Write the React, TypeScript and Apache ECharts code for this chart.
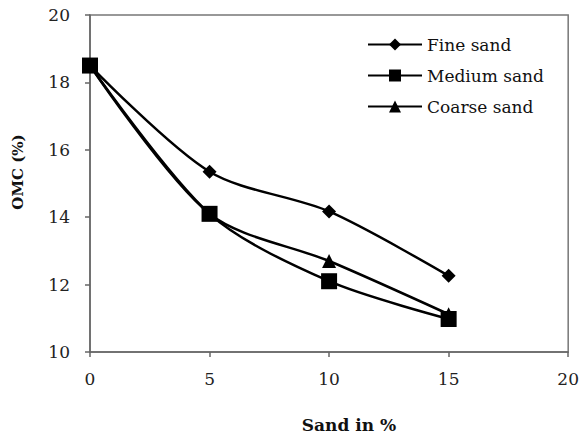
import React, { useEffect, useRef } from "react";
import * as echarts from "echarts";

// Sand content (%) on the x axis
const sandPercent = [0, 5, 10, 15];
// Optimum moisture content (%) for each sand type
const fineSand = [18.5, 15.35, 14.17, 12.26];
const mediumSand = [18.5, 14.1, 12.1, 10.98];
const coarseSand = [18.5, 14.1, 12.7, 11.12];

const FONT = "'DejaVu Serif', serif";

export default function App() {
  const ref = useRef<HTMLDivElement>(null);

  useEffect(() => {
    if (!ref.current) return;
    const chart = echarts.init(ref.current, undefined, { renderer: "svg" });
    const pair = (ys: number[]) => sandPercent.map((x, i) => [x, ys[i]]);
    const lineSeries = (name: string, ys: number[], symbol: string, size: number) => ({
      name,
      type: "line",
      data: pair(ys),
      smooth: 0.3,
      symbol,
      symbolSize: size,
      lineStyle: { color: "#000", width: 2.5 },
      itemStyle: { color: "#000" },
      z: 3,
    });
    chart.setOption({
      animation: false,
      backgroundColor: "#fff",
      textStyle: { fontFamily: FONT },
      grid: {
        left: 90,
        right: 12,
        top: 15,
        bottom: 84,
        show: true,
        borderColor: "#777",
        borderWidth: 1.5,
      },
      legend: {
        left: 362,
        top: 31,
        orient: "vertical",
        itemWidth: 54,
        itemHeight: 15,
        itemGap: 14,
        textStyle: { fontFamily: FONT, fontSize: 17, color: "#111" },
        data: ["Fine sand", "Medium sand", "Coarse sand"],
      },
      xAxis: {
        type: "value",
        min: 0,
        max: 20,
        interval: 5,
        axisLine: { lineStyle: { color: "#666", width: 1.5 } },
        axisTick: { show: true, length: 5, lineStyle: { color: "#666", width: 1.5 } },
        axisLabel: { fontFamily: FONT, fontSize: 17, color: "#222", margin: 18 },
        splitLine: { show: false },
      },
      yAxis: {
        type: "value",
        min: 10,
        max: 20,
        interval: 2,
        axisLine: { show: true, lineStyle: { color: "#666", width: 1.5 } },
        axisTick: { show: true, length: 5, lineStyle: { color: "#666", width: 1.5 } },
        axisLabel: { fontFamily: FONT, fontSize: 17, color: "#222", margin: 20 },
        splitLine: { show: false },
      },
      graphic: [
        {
          type: "text",
          x: 349,
          y: 425,
          style: {
            text: "Sand in %",
            fontFamily: FONT,
            fontSize: 17,
            fontWeight: "bold",
            fill: "#111",
            textAlign: "center",
            textVerticalAlign: "middle",
          },
        },
        {
          type: "text",
          x: 18,
          y: 172,
          rotation: Math.PI / 2,
          style: {
            text: "OMC (%)",
            fontFamily: FONT,
            fontSize: 15,
            fontWeight: "bold",
            fill: "#111",
            textAlign: "center",
            textVerticalAlign: "middle",
          },
        },
      ],
      series: [
        lineSeries("Fine sand", fineSand, "diamond", 14),
        lineSeries("Coarse sand", coarseSand, "triangle", 14),
        lineSeries("Medium sand", mediumSand, "rect", 16),
      ],
    });
    return () => chart.dispose();
  }, []);

  return (
    <div
      ref={ref}
      style={{ position: "fixed", left: 0, top: 0, width: 582, height: 436 }}
    />
  );
}
